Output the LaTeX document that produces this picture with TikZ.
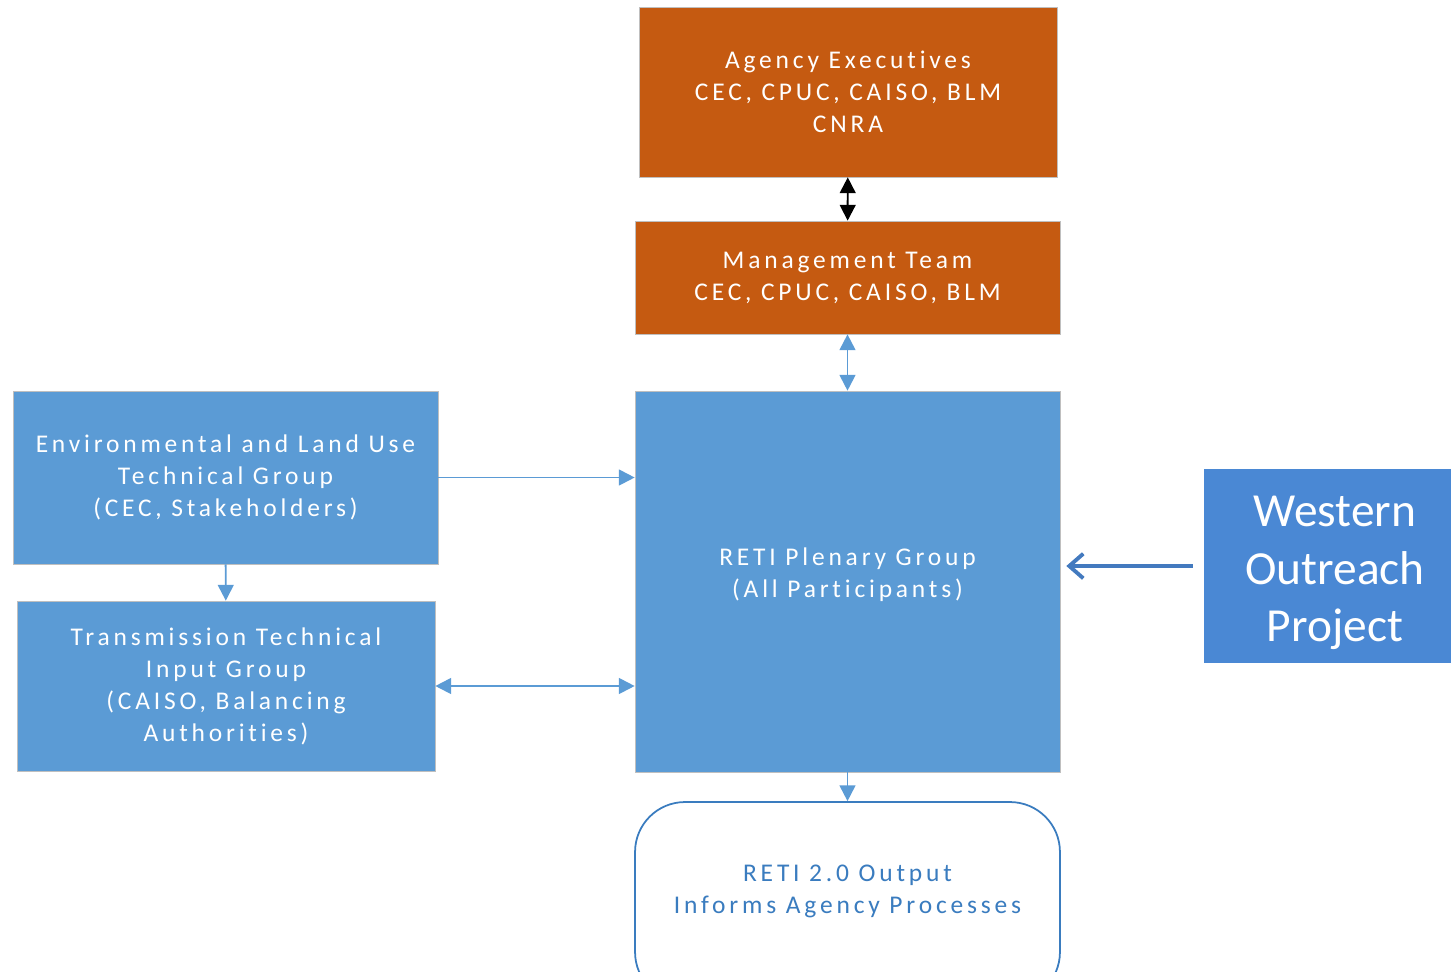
\documentclass[tikz,border=0pt]{standalone}
\usepackage{fontspec}
\setmainfont{Carlito}
\newfontfamily\spaced[LetterSpace=15,Ligatures={NoCommon}]{Carlito}
\usetikzlibrary{arrows.meta,positioning}

\definecolor{agencyorange}{HTML}{C55A11}
\definecolor{groupblue}{HTML}{5B9BD5}
\definecolor{westblue}{HTML}{4A88D4}
\definecolor{outblue}{HTML}{3A7CBF}
\definecolor{edgegray}{HTML}{BFBFBF}

\begin{document}
\begin{tikzpicture}[
  x=0.02cm, y=-0.02cm,
  orangebox/.style={draw=edgegray, fill=agencyorange, text=white, align=center,
                    font=\spaced\fontsize{14.5}{18.2}\selectfont, inner sep=0pt},
  bluebox/.style={draw=edgegray, fill=groupblue, text=white, align=center,
                  font=\spaced\fontsize{14.5}{18.2}\selectfont, inner sep=0pt},
  outbox/.style={draw=outblue, line width=1pt, rounded corners=1cm, fill=white, text=outblue,
                 align=center, font=\spaced\fontsize{14.5}{18.2}\selectfont, inner sep=0pt},
  arr/.style={{Triangle[length=9pt,width=9pt]}-{Triangle[length=9pt,width=9pt]}, line width=1.1pt, groupblue},
  onearr/.style={-{Triangle[length=9pt,width=9pt]}, line width=1.1pt, groupblue}
]
\useasboundingbox (0,0) rectangle (1451,971);

\node[orangebox, minimum width=8.36cm, minimum height=3.4cm] (exec) at (848,92)
  {Agency Executives\\CEC, CPUC, CAISO, BLM\\CNRA};
\node[orangebox, minimum width=8.5cm, minimum height=2.26cm] (mgmt) at (847.5,277.5)
  {Management Team\\CEC, CPUC, CAISO, BLM};
\node[bluebox, minimum width=8.5cm, minimum height=7.62cm] (reti) at (847.5,581.5)
  {RETI Plenary Group\\(All Participants)\\[-8pt]};
\node[bluebox, minimum width=8.5cm, minimum height=3.46cm] (env) at (225.5,477.5)
  {Environmental and Land Use\\Technical Group\\(CEC, Stakeholders)};
\node[bluebox, minimum width=8.36cm, minimum height=3.4cm] (trans) at (226,686)
  {Transmission Technical\\Input Group\\(CAISO, Balancing\\Authorities)};
\node[fill=westblue, text=white, align=center, inner sep=0pt,
      minimum width=5.24cm, minimum height=3.88cm,
      font=\fontsize{27}{32.8}\selectfont] (west) at (1335,566)
  {Western\\Outreach\\Project\\[-36pt]};
\node[outbox, minimum width=8.5cm, minimum height=4cm] (output) at (847.5,902)
  {RETI 2.0 Output\\Informs Agency Processes\\[-3.5pt]};

\draw[{Triangle[length=9pt,width=9pt]}-{Triangle[length=9pt,width=9pt]}, line width=1.1pt, black]
  (exec) -- (mgmt);
\draw[arr] (mgmt) -- (reti);
\draw[onearr] (env.east) -- (env.east -| reti.west);
\draw[onearr] (env) -- (trans);
\draw[arr] (trans.east) -- (trans.east -| reti.west);
\draw[onearr] (reti) -- (output);
\draw[-{Straight Barb[length=8pt,width=14pt]}, line width=2.2pt, westblue!90!black,
      shorten <=0.22cm, shorten >=0.12cm]
  (west.west) -- (west.west -| reti.east);
\end{tikzpicture}
\end{document}
